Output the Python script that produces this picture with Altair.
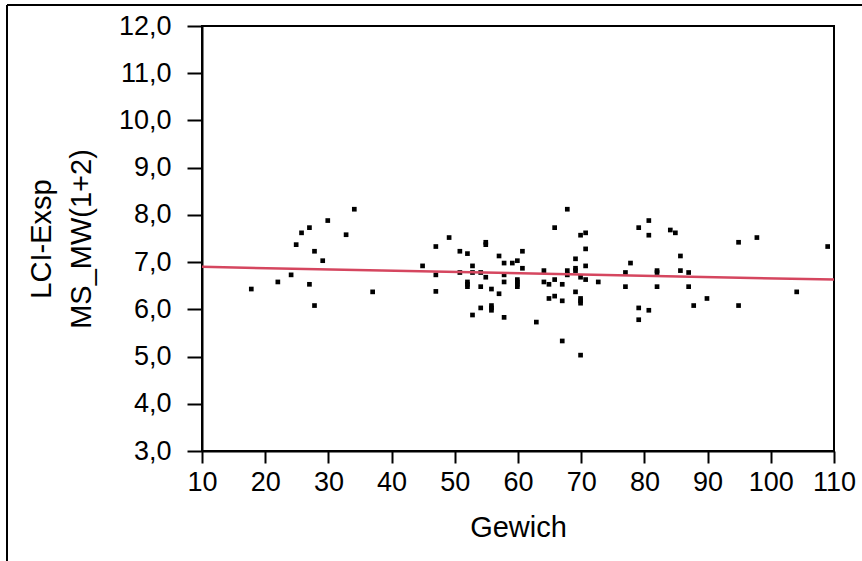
import altair as alt
import pandas as pd

# Scatter data: Gewich (x) vs LCI-Exsp MS_MW(1+2) (y)
gewich = [17.8, 22.0, 24.1, 24.9, 25.75, 27.0, 27.0, 27.8, 27.8, 29.1, 29.9, 32.8, 34.1, 37.0,
          44.9, 47.0, 47.0, 47.0, 49.1, 50.8, 50.8, 52.0, 52.0, 52.0, 52.0, 52.8, 52.8, 52.8,
          54.1, 54.1, 54.1, 54.9, 54.9, 54.9, 55.8, 55.8, 55.8, 55.8, 57.0, 57.0, 57.8, 57.8,
          57.8, 57.8, 59.1, 59.9, 59.9, 59.9, 59.9, 59.9, 60.7, 60.7, 62.9, 64.1, 64.1, 64.9,
          64.9, 65.8, 65.8, 65.8, 67.0, 67.0, 67.0, 67.8, 67.8, 67.8, 69.1, 69.1, 69.1, 69.1,
          69.9, 69.9, 69.9, 69.9, 69.9, 69.9, 70.7, 70.7, 70.7, 70.7, 72.7,
          77.0, 77.0, 77.8, 79.1, 79.1, 79.1, 80.7, 80.7, 80.7, 82.0, 82.0, 82.0, 84.1, 84.9,
          85.7, 85.7, 87.0, 87.0, 87.8, 89.9, 94.9, 94.9, 97.8, 104.1, 109.0]
lci = [6.43, 6.58, 6.73, 7.37, 7.62, 7.73, 6.53, 7.23, 6.08, 7.03, 7.88, 7.58, 8.12, 6.37,
       6.92, 7.33, 6.73, 6.38, 7.52, 7.23, 6.78, 7.18, 6.58, 6.53, 6.48, 6.92, 6.78, 5.88,
       6.78, 6.48, 6.03, 7.42, 7.37, 6.68, 6.43, 6.08, 6.03, 5.98, 7.13, 6.33, 6.98, 6.73,
       6.58, 5.83, 6.98, 7.03, 6.63, 6.58, 6.53, 6.48, 7.23, 6.87, 5.73, 6.82, 6.58, 6.53,
       6.23, 7.73, 6.63, 6.28, 6.53, 6.18, 5.33, 8.12, 6.82, 6.73, 7.07, 6.87, 6.82, 6.37,
       7.57, 6.68, 6.23, 6.18, 6.13, 5.03, 7.62, 7.28, 6.92, 6.63, 6.58,
       6.78, 6.48, 6.98, 7.73, 6.03, 5.78, 7.88, 7.57, 5.98, 6.82, 6.78, 6.48, 7.68, 7.62,
       7.13, 6.82, 6.78, 6.48, 6.08, 6.23, 7.42, 6.08, 7.52, 6.37, 7.33]

# Fitted regression line endpoints
fit_x = [10, 110]
fit_y = [6.90, 6.63]

x_ticks = [10, 20, 30, 40, 50, 60, 70, 80, 90, 100, 110]
y_ticks = [3.0, 3.5, 4.0, 4.5, 5.0, 5.5, 6.0, 6.5, 7.0, 7.5, 8.0, 8.5, 9.0, 9.5,
           10.0, 10.5, 11.0, 11.5, 12.0]

pts = pd.DataFrame({"Gewich": gewich, "LCI": lci})
fit = pd.DataFrame({"Gewich": fit_x, "LCI": fit_y})

FONT = "Liberation Sans"
LABEL_SIZE = 27
TITLE_SIZE = 29

xscale = alt.Scale(domain=[10, 110], nice=False, zero=False)
yscale = alt.Scale(domain=[3, 12], nice=False, zero=False)

xaxis = alt.Axis(values=x_ticks, title="Gewich", grid=False, tickSize=12, tickWidth=2,
                 tickColor="black", domainColor="black", domainWidth=2,
                 labelFontSize=LABEL_SIZE, labelFont=FONT, labelColor="black", labelPadding=6,
                 labelFlush=False, labelOverlap=False,
                 titleFontSize=TITLE_SIZE, titleFont=FONT, titleFontWeight="normal",
                 titleColor="black", titlePadding=18)
yaxis = alt.Axis(values=y_ticks, title=["LCI-Exsp", "MS_MW(1+2)"], grid=False,
                 tickSize=15, tickWidth=2, tickColor="black", domainColor="black",
                 domainWidth=2,
                 labelExpr="datum.value % 1 == 0 ? replace(format(datum.value, '.1f'), '.', ',') : ''",
                 labelFontSize=LABEL_SIZE, labelFont=FONT, labelColor="black", labelPadding=16,
                 labelFlush=False, labelOverlap=False,
                 titleFontSize=TITLE_SIZE, titleFont=FONT, titleFontWeight="normal",
                 titleColor="black", titlePadding=22, titleLineHeight=40)

points = alt.Chart(pts).mark_square(size=22, color="black", opacity=1).encode(
    x=alt.X("Gewich:Q", scale=xscale, axis=xaxis),
    y=alt.Y("LCI:Q", scale=yscale, axis=yaxis),
)

line = alt.Chart(fit).mark_line(color="#d5465f", strokeWidth=2.5).encode(
    x=alt.X("Gewich:Q", scale=xscale),
    y=alt.Y("LCI:Q", scale=yscale),
)

frame_data = alt.Data(values=[{"k": 1}])
border_v = alt.Chart(frame_data).mark_rule(color="black", strokeWidth=2).encode(
    x=alt.value(-195), y=alt.value(-21), y2=alt.value(540)
)
border_h = alt.Chart(frame_data).mark_rule(color="black", strokeWidth=2).encode(
    x=alt.value(-195), x2=alt.value(660), y=alt.value(-21)
)

chart = alt.layer(points, line, border_v, border_h).properties(
    width=632, height=425,
    autosize=alt.AutoSizeParams(type="none"),
    padding={"left": 202, "top": 26, "right": 28, "bottom": 110},
    background="white",
).configure_view(stroke="black", strokeWidth=2)

chart.save("out.html", embed_options={"renderer": "svg", "actions": False})
